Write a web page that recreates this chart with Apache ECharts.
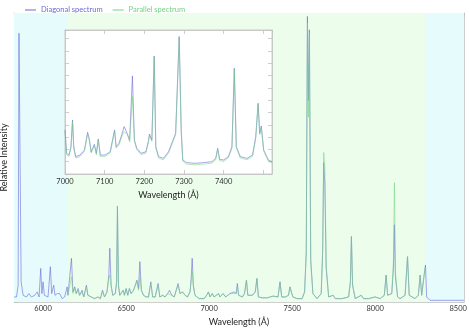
<!DOCTYPE html>
<html><head><meta charset="utf-8">
<script src="https://cdn.jsdelivr.net/npm/echarts@6/dist/echarts.min.js"></script>
<style>html,body{margin:0;padding:0;background:#fff}#c{width:469px;height:328px}</style>
</head><body><div id="c"></div>
<script>
// ---- data ----
const seriesNames = ['Diagonal spectrum', 'Parallel spectrum'];
const wavelengths = [5825,5840,5850,5855,5862,5868,5880,5900,5915,5930,5950,5965,5976,5986,5993,6000,6008,6016,6030,6044,6052,6064,6072,6086,6100,6115,6130,6145,
6150,6160,6171,6180,6191,6200,6211,6220,6235,6245,6261,6270,6290,6310,6330,6345,6358,6370,6385,6396,6402,6410,6420,6435,6443,6448,6454,6462,6470,6482,6490,6500,6510,6520,6530,6545,6555,6565,6575,6583,6592,6605,6620,6635,6649,6660,6675,6693,6703,6720,6735,6750,6762,6775,6790,6813,6825,6840,6855,6870,6885,6892,6898,6905,6915,6940,6970,6985,6996,
7005,7019,7030,7057,7066,7084,7100,7125,7135,7150,7163,7170,7178,7200,7213,7225,7233,7260,7278,7288,7297,7320,7350,7385,7395,7415,7427,7437,7460,7478,7487,7495,7505,7530,7560,7575,7585,7592,7598,7604,7612,7625,7650,7675,7684,7690,7697,7705,7720,7747,7760,7800,7840,7851,7857,7864,7880,7916,7930,7960,8000,8030,8055,8066,8075,8100,8110,8116,8122,8135,8150,8180,8195,8205,8240,8260,8271,8280,8290,8300,8303,8310,8330,8400,8450,8500,8535];
const diagonal = [0.03,0.03,0.10,1.60,1.61,0.12,0.04,0.03,0.05,0.03,0.04,0.06,0.03,0.20,0.05,0.12,0.04,0.05,0.03,0.21,0.05,0.10,0.04,0.05,0.05,0.02,0.03,0.09,
0.04,0.05,0.26,0.06,0.09,0.05,0.08,0.04,0.07,0.03,0.10,0.04,0.03,0.02,0.03,0.02,0.07,0.03,0.06,0.16,0.32,0.10,0.04,0.05,0.12,0.57,0.10,0.04,0.03,0.07,0.04,0.08,0.04,0.08,0.05,0.07,0.06,0.13,0.08,0.24,0.07,0.04,0.03,0.03,0.12,0.03,0.03,0.11,0.03,0.04,0.03,0.05,0.07,0.04,0.03,0.11,0.05,0.06,0.04,0.03,0.06,0.14,0.26,0.10,0.04,0.02,0.02,0.04,0.06,
0.03,0.05,0.03,0.05,0.03,0.05,0.03,0.05,0.04,0.06,0.05,0.11,0.04,0.03,0.05,0.13,0.04,0.04,0.06,0.14,0.03,0.025,0.025,0.035,0.025,0.03,0.12,0.03,0.03,0.04,0.09,0.06,0.03,0.02,0.02,0.06,0.30,1.70,1.20,1.62,0.25,0.05,0.02,0.05,0.30,0.83,0.70,0.20,0.03,0.04,0.02,0.02,0.03,0.12,0.39,0.10,0.02,0.04,0.02,0.02,0.03,0.02,0.04,0.16,0.04,0.05,0.20,0.46,0.15,0.03,0.02,0.04,0.27,0.04,0.02,0.04,0.16,0.04,0.05,0.20,0.22,0.03,0.01,0.01,0.01,0.01,0.01];
const parallel = [null,null,null,null,null,null,null,null,null,null,null,null,null,null,null,null,null,null,null,null,null,null,null,null,null,null,null,null,
0.04,0.04,0.15,0.05,0.08,0.05,0.07,0.04,0.06,0.03,0.09,0.04,0.03,0.02,0.03,0.02,0.06,0.03,0.06,0.14,0.16,0.09,0.04,0.05,0.12,0.57,0.10,0.04,0.03,0.07,0.04,0.08,0.04,0.08,0.05,0.07,0.06,0.12,0.07,0.15,0.07,0.04,0.03,0.03,0.11,0.03,0.03,0.10,0.03,0.04,0.03,0.05,0.06,0.04,0.03,0.10,0.05,0.06,0.04,0.03,0.06,0.12,0.18,0.09,0.04,0.02,0.02,0.04,0.06,
0.03,0.05,0.03,0.05,0.03,0.05,0.03,0.05,0.04,0.05,0.05,0.09,0.04,0.03,0.05,0.13,0.04,0.04,0.06,0.14,0.03,0.025,0.025,0.035,0.025,0.03,0.12,0.03,0.03,0.04,0.09,0.06,0.03,0.02,0.02,0.06,0.28,1.66,1.10,1.60,0.24,0.05,0.02,0.05,0.32,0.89,0.80,0.22,0.03,0.04,0.02,0.02,0.03,0.12,0.39,0.10,0.02,0.04,0.02,0.02,0.03,0.02,0.04,0.16,0.04,0.05,0.25,0.71,0.18,0.03,0.02,0.04,0.27,0.04,0.02,0.04,0.16,0.04,0.05,0.20,null,null,null,null,null,null,null];
const parallelRange = [6150, 8300];
const mainRange = [5825, 8535];

const insetWavelengths = [7000,7004,7010,7015,7019,7022,7027,7038,7049,7057,7061,7066,7074,7079,7084,7089,7101,7114,7125,7129,7136,7143,7149,7153,7158,7163,7170,7175,7181,7192,7204,7210,7213,7219,7225,7229,7236,7248,7261,7271,7279,7288,7293,7297,7307,7328,7349,7370,7380,7385,7390,7400,7412,7421,7427,7432,7442,7459,7473,7481,7487,7491,7495,7501,7513,7522];
const insetDiagonal = [0.0658,0.0468,0.0454,0.0522,0.0739,0.0522,0.0441,0.0454,0.0495,0.0639,0.0590,0.0481,0.0541,0.0468,0.0585,0.0454,0.0454,0.0481,0.0658,0.0522,0.0549,0.0617,0.0685,0.0658,0.0663,0.0576,0.1097,0.0576,0.0509,0.0468,0.0481,0.0563,0.0625,0.0576,0.1259,0.0522,0.0441,0.0427,0.0481,0.0563,0.0631,0.1417,0.0658,0.0414,0.0392,0.0387,0.0392,0.0400,0.0427,0.0509,0.0419,0.0414,0.0441,0.0522,0.1159,0.0522,0.0441,0.0427,0.0454,0.0603,0.0875,0.0631,0.0690,0.0495,0.0414,0.0400];
const insetParallel = [0.0650,0.0458,0.0442,0.0512,0.0730,0.0510,0.0430,0.0442,0.0484,0.0625,0.0575,0.0470,0.0530,0.0456,0.0575,0.0442,0.0443,0.0470,0.0650,0.0510,0.0535,0.0600,0.0644,0.0630,0.0620,0.0560,0.0928,0.0565,0.0498,0.0457,0.0470,0.0550,0.0612,0.0565,0.1250,0.0510,0.0430,0.0415,0.0470,0.0552,0.0620,0.1410,0.0645,0.0402,0.0380,0.0375,0.0380,0.0388,0.0415,0.0500,0.0408,0.0403,0.0430,0.0510,0.1150,0.0510,0.0430,0.0416,0.0443,0.0590,0.0865,0.0620,0.0680,0.0485,0.0403,0.0390];
const insetRange = [7000, 7522];
const insetTickLabels = [7000, 7100, 7200, 7300, 7400];

// ---- chart ----
const FONT = 'Lato';
const GRAY = '#c2c2c2';
const BLUE = '#6a6ad8';
const GREEN = '#72d27e';
const CYAN_BG = '#e6fbfb';
const GREEN_BG = '#ecfdec';

const pairs = (xs, ys) => xs.map((x, i) => [x, ys[i]]);
const tick = {show: true, inside: true, length: 4, lineStyle: {color: GRAY, width: 0.8}};
const line = {show: true, onZero: false, lineStyle: {color: GRAY, width: 0.8}};

const chart = echarts.init(document.getElementById('c'));
chart.setOption({
  animation: false,
  textStyle: {fontFamily: FONT},
  legend: {
    top: 1, left: 20, itemWidth: 11, itemHeight: 1, itemGap: 10, icon: 'rect',
    textStyle: {fontSize: 7.5, fontFamily: FONT},
    data: [
      {name: seriesNames[0], textStyle: {color: BLUE}},
      {name: seriesNames[1], textStyle: {color: GREEN}}
    ]
  },
  grid: [
    {left: 14, right: 5, top: 13, bottom: 26, outerBoundsMode: 'none', containLabel: false},
    {left: 65, top: 30, width: 207, height: 144, outerBoundsMode: 'none', containLabel: false,
     show: true, backgroundColor: '#ffffff', borderColor: GRAY, borderWidth: 0.8, z: 5}
  ],
  xAxis: [
    {gridIndex: 0, type: 'value', min: mainRange[0], max: mainRange[1], splitNumber: 5, position: 'bottom',
     axisLine: line, axisTick: tick, splitLine: {show: false},
     axisLabel: {fontSize: 7.5, color: '#333', margin: 3, showMinLabel: false, showMaxLabel: false, formatter: v => String(v)},
     name: 'Wavelength (Å)', nameLocation: 'middle', nameGap: 14, nameTextStyle: {fontSize: 9, color: '#222'}},
    {gridIndex: 0, type: 'value', min: mainRange[0], max: mainRange[1], splitNumber: 5, position: 'top',
     axisLine: line, axisTick: tick, splitLine: {show: false}, axisLabel: {show: false}},
    {gridIndex: 1, type: 'value', min: insetRange[0], max: insetRange[1], interval: 100, position: 'bottom', z: 6,
     axisLine: line, axisTick: tick, splitLine: {show: false},
     axisLabel: {fontSize: 7.5, color: '#333', margin: 4, showMaxLabel: false,
       formatter: v => insetTickLabels.includes(v) ? String(v) : ''},
     name: 'Wavelength (Å)', nameLocation: 'middle', nameGap: 17, nameTextStyle: {fontSize: 9, color: '#222'}},
    {gridIndex: 1, type: 'value', min: insetRange[0], max: insetRange[1], interval: 100, position: 'top', z: 6,
     axisLine: line, axisTick: tick, splitLine: {show: false}, axisLabel: {show: false}}
  ],
  yAxis: [
    {gridIndex: 0, type: 'value', min: 0, max: 1.72, interval: 0.1, position: 'left',
     axisLine: line, axisTick: tick, splitLine: {show: false}, axisLabel: {show: false},
     name: 'Relative Intensity', nameLocation: 'middle', nameGap: 5, nameTextStyle: {fontSize: 9, color: '#222'}},
    {gridIndex: 0, type: 'value', min: 0, max: 1.72, interval: 0.1, position: 'right',
     axisLine: line, axisTick: tick, splitLine: {show: false}, axisLabel: {show: false}},
    {gridIndex: 1, type: 'value', min: 0.03, max: 0.147, interval: 0.01, position: 'left', z: 6,
     axisLine: line, axisTick: tick, splitLine: {show: false}, axisLabel: {show: false}},
    {gridIndex: 1, type: 'value', min: 0.03, max: 0.147, interval: 0.01, position: 'right', z: 6,
     axisLine: line, axisTick: tick, splitLine: {show: false}, axisLabel: {show: false}}
  ],
  series: [
    {name: 'bands', type: 'line', xAxisIndex: 0, yAxisIndex: 0, data: [], z: 1, silent: true,
     markArea: {silent: true, data: [
       [{xAxis: mainRange[0], itemStyle: {color: CYAN_BG}}, {xAxis: parallelRange[0]}],
       [{xAxis: parallelRange[0], itemStyle: {color: GREEN_BG}}, {xAxis: parallelRange[1]}],
       [{xAxis: parallelRange[1], itemStyle: {color: CYAN_BG}}, {xAxis: mainRange[1]}]
     ]}},
    {name: seriesNames[0], type: 'line', xAxisIndex: 0, yAxisIndex: 0, data: pairs(wavelengths, diagonal),
     symbol: 'none', z: 2, lineStyle: {color: BLUE, width: 0.8, opacity: 0.75}, itemStyle: {color: BLUE}},
    {name: seriesNames[1], type: 'line', xAxisIndex: 0, yAxisIndex: 0, data: pairs(wavelengths, parallel),
     symbol: 'none', z: 3, lineStyle: {color: GREEN, width: 0.8, opacity: 0.65}, itemStyle: {color: GREEN}},
    {name: seriesNames[0], type: 'line', xAxisIndex: 2, yAxisIndex: 2, data: pairs(insetWavelengths, insetDiagonal),
     symbol: 'none', z: 7, lineStyle: {color: BLUE, width: 0.8, opacity: 0.75}, itemStyle: {color: BLUE}},
    {name: seriesNames[1], type: 'line', xAxisIndex: 2, yAxisIndex: 2, data: pairs(insetWavelengths, insetParallel),
     symbol: 'none', z: 8, lineStyle: {color: GREEN, width: 0.8, opacity: 0.65}, itemStyle: {color: GREEN}}
  ]
});
</script></body></html>
